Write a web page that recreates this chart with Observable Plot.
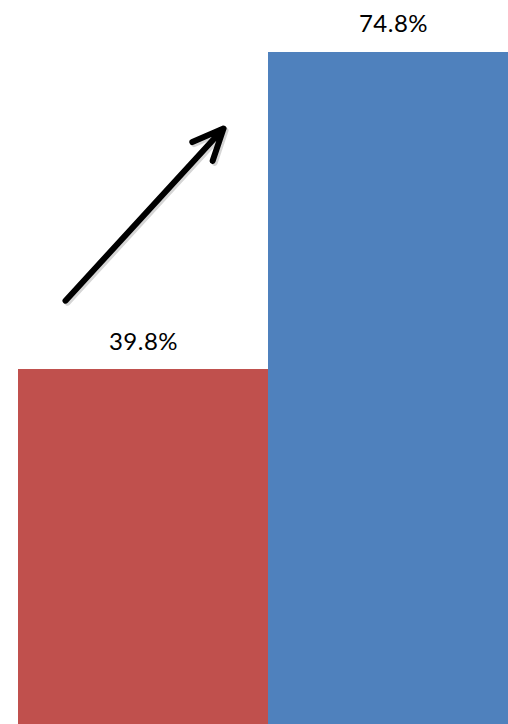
<!DOCTYPE html>
<html>
<head>
<meta charset="utf-8">
<script src="https://cdn.jsdelivr.net/npm/d3@7"></script>
<script src="https://cdn.jsdelivr.net/npm/@observablehq/plot@0.6"></script>
<style>
  html, body { margin: 0; padding: 0; background: #fff; overflow: hidden; }
  #chart svg { display: block; }
</style>
</head>
<body>
<div id="chart"></div>
<script>
const categories = ["Before", "After"];
const values = [39.8, 74.8];
const labels = ["39.8%", "74.8%"];
const colors = ["#C0504D", "#4F81BD"];
// annotation arrow, in data units (x: category index space, y: percent)
const arrowFrom = [0.188, 47.4];
const arrowTo = [0.82, 66.4];

const bars = categories.map((c, i) => ({
  category: c, x1: i, x2: i + 1, value: values[i], label: labels[i], color: colors[i]
}));
const arrows = [{x1: arrowFrom[0], y1: arrowFrom[1], x2: arrowTo[0], y2: arrowTo[1]}];

const chart = Plot.plot({
  width: 508,
  height: 724,
  margin: 0,
  x: {domain: [0, 2], range: [18, 518], axis: null},
  y: {domain: [0, 80], range: [729.5, 4.9], axis: null},
  marks: [
    Plot.rectY(bars, {x1: "x1", x2: "x2", y1: 0, y2: "value", fill: d => d.color}),
    Plot.text(bars, {
      x: d => d.x1 + 0.5, y: "value", text: "label",
      lineAnchor: "bottom", dy: -20,
      fontSize: 24, fontWeight: 400, fontFamily: "Lato, 'Open Sans', sans-serif", fill: "#000"
    }),
    Plot.arrow(arrows, {
      x1: "x1", y1: "y1", x2: "x2", y2: "y2",
      stroke: "#888", strokeOpacity: 0.35, strokeWidth: 6, headLength: 8.5, headAngle: 48,
      dx: 2, dy: 2
    }),
    Plot.arrow(arrows, {
      x1: "x1", y1: "y1", x2: "x2", y2: "y2",
      stroke: "#000", strokeWidth: 6, headLength: 8.5, headAngle: 48
    })
  ]
});
chart.querySelectorAll("text").forEach(t => t.setAttribute("letter-spacing", "0.5"));
document.getElementById("chart").appendChild(chart);
</script>
</body>
</html>
